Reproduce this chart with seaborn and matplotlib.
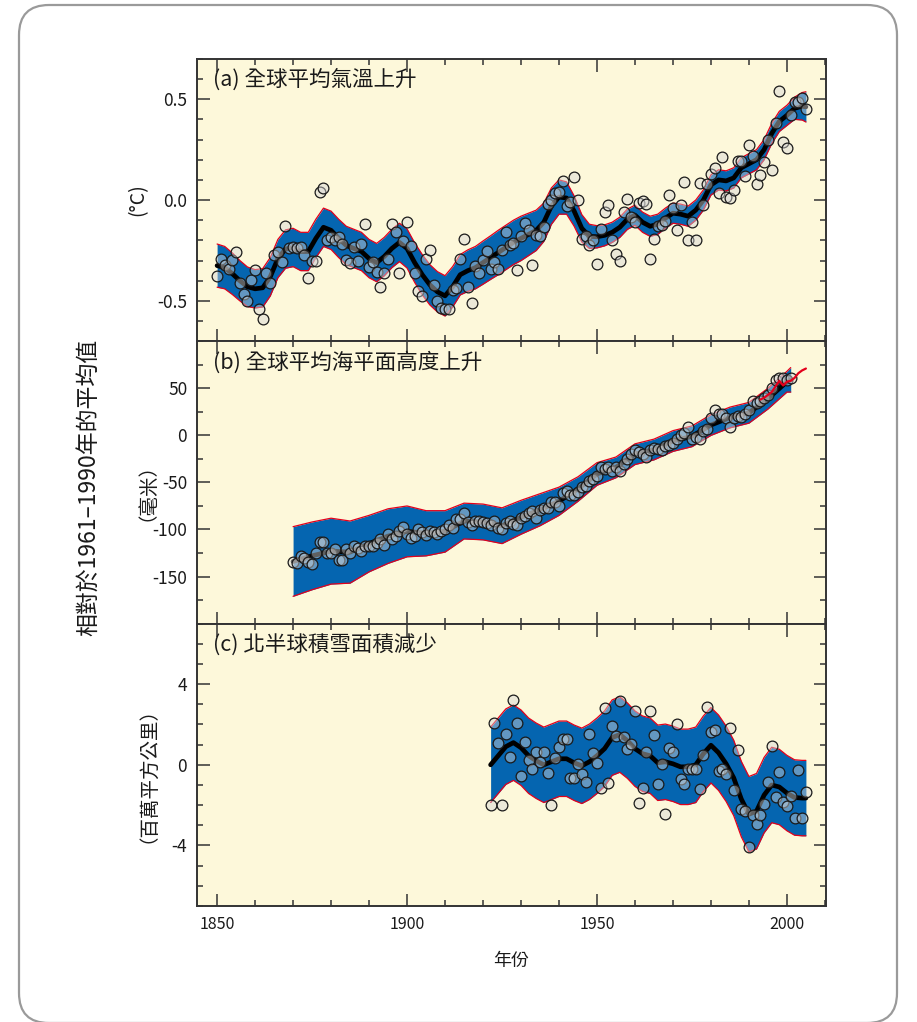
import numpy as np
import pandas as pd
import seaborn as sns
import matplotlib.pyplot as plt
from matplotlib.patches import FancyBboxPatch
from matplotlib.ticker import FixedLocator, MultipleLocator, FormatStrFormatter

# ---------------- data ----------------
# (a) global mean temperature, annual values (deg C), 1850-2005
temp_years = list(range(1850, 2006))
temp_vals = [
    -0.375, -0.29, -0.32, -0.34, -0.295, -0.26, -0.41, -0.465, -0.50, -0.395,
    -0.345, -0.54, -0.59, -0.36, -0.41, -0.27, -0.26, -0.305, -0.13, -0.24,
    -0.235, -0.24, -0.235, -0.27, -0.385, -0.30, -0.30, 0.04, 0.06, -0.20,
    -0.185, -0.20, -0.185, -0.22, -0.295, -0.31, -0.235, -0.30, -0.22, -0.12,
    -0.33, -0.305, -0.355, -0.43, -0.36, -0.29, -0.12, -0.16, -0.36, -0.205,
    -0.11, -0.23, -0.36, -0.45, -0.475, -0.29, -0.25, -0.42, -0.50, -0.535,
    -0.54, -0.54, -0.445, -0.435, -0.29, -0.195, -0.43, -0.51, -0.325, -0.36,
    -0.295, -0.255, -0.34, -0.305, -0.34, -0.25, -0.16, -0.225, -0.215, -0.345,
    -0.18, -0.115, -0.15, -0.32, -0.175, -0.18, -0.135, -0.02, 0.0, 0.035,
    0.04, 0.095, -0.03, -0.01, 0.115, 0.0, -0.195, -0.18, -0.225, -0.2,
    -0.315, -0.145, -0.06, -0.025, -0.2, -0.265, -0.30, -0.06, 0.005, -0.085,
    -0.11, -0.015, -0.005, -0.02, -0.29, -0.195, -0.13, -0.125, -0.105, 0.025,
    -0.04, -0.15, -0.025, 0.09, -0.20, -0.11, -0.20, 0.085, -0.025, 0.08,
    0.13, 0.16, 0.035, 0.215, 0.015, 0.01, 0.05, 0.195, 0.195, 0.12,
    0.275, 0.22, 0.08, 0.125, 0.19, 0.30, 0.15, 0.38, 0.54, 0.29,
    0.26, 0.42, 0.485, 0.485, 0.505, 0.45,
]
temp_curve_years = list(range(1850, 2005, 2)) + [2005]
temp_curve = [
    -0.325, -0.335, -0.365, -0.40, -0.43, -0.44, -0.435, -0.38, -0.29, -0.243,
    -0.235, -0.255, -0.255, -0.19, -0.135, -0.15, -0.19, -0.225, -0.24, -0.255,
    -0.29, -0.31, -0.28, -0.24, -0.21, -0.24, -0.31, -0.37, -0.42, -0.455,
    -0.475, -0.43, -0.37, -0.35, -0.335, -0.31, -0.285, -0.26, -0.235, -0.21,
    -0.19, -0.17, -0.15, -0.11, -0.03, 0.015, 0.01, -0.055, -0.14, -0.18,
    -0.182, -0.175, -0.16, -0.135, -0.095, -0.075, -0.11, -0.13, -0.12, -0.09,
    -0.065, -0.07, -0.08, -0.05, 0.0, 0.075, 0.1, 0.095, 0.11, 0.16,
    0.18, 0.2, 0.25, 0.33, 0.39, 0.42, 0.455, 0.465, 0.462,
]
temp_halfwidth = [
    0.107, 0.105, 0.103, 0.100, 0.098, 0.095, 0.095, 0.095, 0.095, 0.095,
    0.095, 0.095, 0.095, 0.095, 0.095, 0.095, 0.095, 0.095, 0.095, 0.095,
    0.095, 0.095, 0.095, 0.095, 0.095, 0.097, 0.098, 0.100, 0.100, 0.100,
    0.100, 0.100, 0.100, 0.103, 0.105, 0.107, 0.108, 0.110, 0.110, 0.110,
    0.110, 0.105, 0.100, 0.095, 0.090, 0.085, 0.080, 0.075, 0.068, 0.060,
    0.055, 0.052, 0.050, 0.050, 0.050, 0.050, 0.050, 0.050, 0.050, 0.050,
    0.050, 0.050, 0.050, 0.050, 0.050, 0.050, 0.050, 0.050, 0.050, 0.050,
    0.050, 0.050, 0.050, 0.050, 0.050, 0.050, 0.055, 0.068, 0.075,
]

# (b) global mean sea level, annual values (mm), 1870-2001
sea_years = list(range(1870, 2002))
sea_vals = [
    -134, -136, -128, -130, -134, -137, -125, -113, -113, -125,
    -125, -121, -132, -132, -121, -125, -118, -120, -123, -118,
    -118, -118, -114, -110, -116, -105, -110, -107, -102, -97,
    -105, -109, -107, -100, -103, -106, -102, -103, -105, -102,
    -99, -95, -98, -89, -89, -82, -92, -95, -91, -91,
    -92, -93, -95, -91, -98, -100, -93, -91, -94, -95,
    -88, -86, -82, -80, -88, -79, -77, -77, -71, -71,
    -75, -61, -59, -63, -63, -60, -55, -54, -48, -46,
    -43, -34, -36, -34, -38, -34, -38, -30, -25, -20,
    -16, -18, -20, -23, -16, -13, -14, -16, -11, -10,
    -8, -4, 0, 2, 9, -4, -2, -4, 5, 7,
    18, 27, 23, 23, 18, 9, 18, 21, 20, 23,
    27, 36, 34, 36, 40, 43, 50, 59, 61, 61,
    59, 61,
]
sea_curve_years = list(range(1870, 2001, 5)) + [2001]
sea_curve = [
    -134, -128, -123, -124, -115, -107, -102, -104, -102, -91,
    -92, -96, -87, -79, -70, -57, -41, -34, -20, -15,
    -6, -1, 11, 19, 24, 39, 57, 59,
]
sea_halfwidth = [
    37, 36, 35, 33, 30, 29, 27, 24, 22, 19,
    19, 19, 18, 17, 15, 13, 12, 11, 11, 11,
    11, 11, 11, 11, 11, 11, 11, 13,
]
sat_years = list(range(1993, 2006))
sat_vals = [38, 40, 43, 46, 52, 58, 53, 57, 58, 61, 66, 69, 71]

# (c) NH snow cover, annual values (million km2), 1922-2005
snow_years = list(range(1922, 2006))
snow_vals = [
    -2.01, 2.08, 1.07, -1.98, 1.53, 0.41, 3.22, 2.06, -0.54, 1.12,
    0.25, -0.23, 0.66, 0.13, 0.66, -0.41, -2.01, 0.33, 0.87, 1.29,
    1.29, -0.64, -0.64, 0.05, -0.45, -0.86, 1.52, 0.59, 0.08, -1.14,
    2.84, -0.89, 1.93, 1.45, 3.14, 1.40, 0.79, 1.04, 2.69, -1.90,
    -1.16, 0.66, 2.66, 1.49, -0.94, 0.02, -2.46, 0.84, 0.63, 2.0,
    -0.69, -0.94, -0.23, -0.23, -0.23, -1.19, 0.5, 2.85, 1.62, 1.75,
    -0.33, -0.23, -0.48, 1.83, -1.24, 0.71, -2.18, -2.31, -4.08, -2.48,
    -2.95, -2.48, -1.96, -0.83, 0.92, -1.60, -0.36, -1.85, -2.05, -1.57,
    -2.64, -0.25, -2.64, -1.35,
]
snow_curve_years = list(range(1922, 2005, 2)) + [2005]
snow_curve = [
    0.0, 0.45, 0.9, 1.1, 0.85, 0.45, 0.2, 0.0, 0.15, 0.3,
    0.3, 0.1, -0.05, 0.15, 0.45, 0.8, 1.35, 1.5, 1.2, 0.8,
    0.55, 0.45, 0.1, 0.15, 0.05, -0.1, -0.1, 0.0, 0.55, 0.97,
    0.6, 0.05, -0.65, -1.7, -2.45, -2.3, -1.5, -1.0, -1.1, -1.4,
    -1.62, -1.65, -1.65,
]
snow_halfwidth = 1.87

panel_titles = ["(a) 全球平均氣溫上升", "(b) 全球平均海平面高度上升", "(c) 北半球積雪面積減少"]
unit_labels = ["(°C)", "（毫米）", "（百萬平方公里）"]

# ---------------- style ----------------
sns.set_theme(style="ticks")
plt.rcParams["font.family"] = ["Noto Sans CJK TC", "DejaVu Sans"]
plt.rcParams["axes.unicode_minus"] = False

CREAM = "#fdf8da"
BLUE = "#0565b0"
RED = "#e3001b"
FACE = (0.84, 0.84, 0.84, 0.45)   # translucent grey: looks blue on the band
INK = "#1a1a1a"

fig = plt.figure(figsize=(9.17, 10.22), dpi=100)
fig.patch.set_facecolor("white")

card = FancyBboxPatch((0.19, -0.01), 8.78, 10.18,
                      boxstyle="round,pad=0,rounding_size=0.3",
                      transform=fig.dpi_scale_trans,
                      fc="white", ec="#9a9a9a", lw=1.6, zorder=0)
fig.add_artist(card)

left, width = 0.2148, 0.686
h = 0.2763
bottoms = [0.1135 + 2 * h, 0.1135 + h, 0.1135]
axes = [fig.add_axes([left, b, width, h]) for b in bottoms]


def draw_panel(ax, yrs, vals, cyears, curve, half):
    cyears = np.array(cyears)
    curve = np.array(curve)
    half = np.array(half)
    lo = curve - half
    hi = curve + half
    ax.fill_between(cyears, lo, hi, color=BLUE, lw=0, zorder=1)
    ax.plot(cyears, lo, color=RED, lw=0.9, zorder=2)
    ax.plot(cyears, hi, color=RED, lw=0.9, zorder=2)
    curve_df = pd.DataFrame({"year": cyears, "value": curve})
    sns.lineplot(data=curve_df, x="year", y="value", ax=ax, color="black",
                 lw=3.4, zorder=3, errorbar=None)
    pts = pd.DataFrame({"year": yrs, "value": vals})
    sns.scatterplot(data=pts, x="year", y="value", ax=ax, s=60,
                    facecolor=FACE, edgecolor=INK, linewidth=0.9, zorder=4)


draw_panel(axes[0], temp_years, temp_vals, temp_curve_years, temp_curve, temp_halfwidth)
draw_panel(axes[1], sea_years, sea_vals, sea_curve_years, sea_curve, sea_halfwidth)
sns.lineplot(x=sat_years, y=sat_vals, ax=axes[1], color=RED, lw=1.6, zorder=5,
             errorbar=None)
draw_panel(axes[2], snow_years, snow_vals, snow_curve_years, snow_curve, snow_halfwidth)

ylims = [(-0.7, 0.7), (-200, 100), (-7, 7)]
majors = [[-0.5, 0.0, 0.5], [-150, -100, -50, 0, 50], [-4, 0, 4]]
minors = [0.1, 25, 1]
fmts = ["%.1f", "%d", "%d"]

for i, ax in enumerate(axes):
    ax.set_facecolor(CREAM)
    ax.set_xlim(1844.7, 2010.3)
    ax.set_ylim(*ylims[i])
    ax.yaxis.set_major_locator(FixedLocator(majors[i]))
    ax.yaxis.set_minor_locator(MultipleLocator(minors[i]))
    ax.yaxis.set_major_formatter(FormatStrFormatter(fmts[i]))
    ax.xaxis.set_major_locator(FixedLocator([1850, 1900, 1950, 2000]))
    ax.xaxis.set_minor_locator(MultipleLocator(10))
    ax.tick_params(which="both", direction="in", top=True, right=True,
                   color="#333333", width=1.1, labelcolor=INK)
    ax.tick_params(axis="y", labelsize=12.5)
    ax.tick_params(axis="x", labelsize=11.5)
    ax.tick_params(which="major", length=9, pad=7)
    ax.tick_params(which="minor", length=4.5)
    for sp in ax.spines.values():
        sp.set_color("#333333")
        sp.set_linewidth(1.4)
    ax.set_xlabel("")
    ax.set_ylabel(unit_labels[i], fontsize=14, color=INK)
    ax.yaxis.set_label_coords(-0.078, 0.5)
    ax.text(0.025, 0.925, panel_titles[i], transform=ax.transAxes,
            fontsize=15.5, va="center", ha="left", color=INK)
    if i < 2:
        ax.tick_params(labelbottom=False)

axes[2].set_xlabel("年份", fontsize=13, color=INK, labelpad=14)
fig.text(0.098, 0.523, "相對於1961–1990年的平均值", rotation=90,
         fontsize=16.5, va="center", ha="center", color=INK)

fig.savefig("out.png", dpi=100, facecolor="white")
